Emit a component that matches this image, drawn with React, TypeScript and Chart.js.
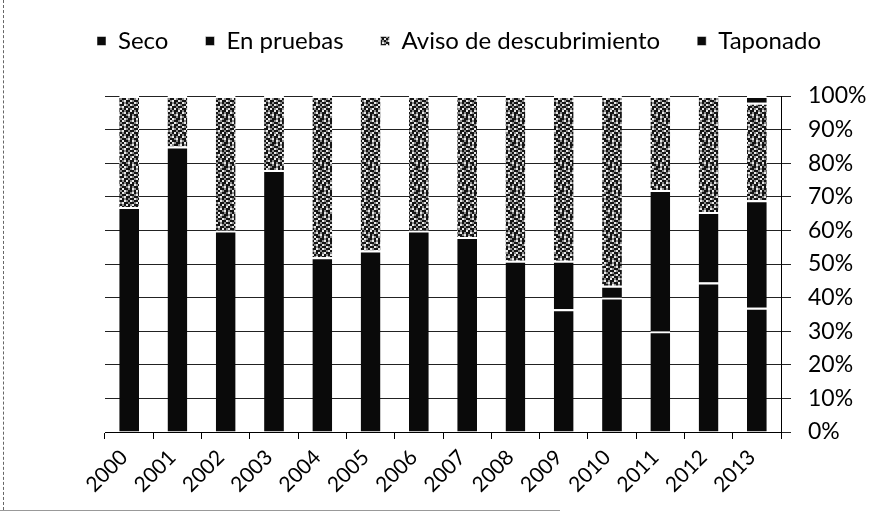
import { useEffect, useRef } from "react";
import { Chart, registerables } from "chart.js";

Chart.register(...registerables);

const years = ["2000", "2001", "2002", "2003", "2004", "2005", "2006", "2007", "2008", "2009", "2010", "2011", "2012", "2013"];
const seco = [67, 85, 60, 78, 52, 54, 60, 58, 51, 36.5, 40, 30, 44.5, 37];
const enPruebas = [0, 0, 0, 0, 0, 0, 0, 0, 0, 14.5, 3.5, 42, 21, 32];
const avisoDescubrimiento = [33, 15, 40, 22, 48, 46, 40, 42, 49, 49, 56.5, 28, 34.5, 29];
const taponado = [0, 0, 0, 0, 0, 0, 0, 0, 0, 0, 0, 0, 0, 2];
const yTicks = [0, 10, 20, 30, 40, 50, 60, 70, 80, 90, 100];

const FONT = "Lato, 'Open Sans', sans-serif";

function makeSpeckle(): CanvasPattern | string {
  const rows = [
    "KWGKKGWKGKKG",
    "GKKWGKKGWKGK",
    "KGWKKWGKKGWK",
    "WKGKGKKWGKKG",
    "KKWGKWGKKWKK",
    "GWKKGKKGWKGW",
    "KGKWKGWKKGKK",
    "WKGKKWKGKWGK",
    "KGWKGKKWGKKG",
    "GKKGWKGKKWKW",
    "KWKKGKWGKGKK",
    "GKWGKKGKWKGK",
  ];
  const S = 2;
  const c = document.createElement("canvas");
  c.width = rows[0].length * S;
  c.height = rows.length * S;
  const ctx = c.getContext("2d");
  if (!ctx) return "#606060";
  const col: Record<string, string> = { K: "#141414", G: "#8a8a8a", W: "#e8e8e8" };
  rows.forEach((r, y) => {
    for (let x = 0; x < r.length; x++) {
      ctx.fillStyle = col[r[x]];
      ctx.fillRect(x * S, y * S, S, S);
    }
  });
  const p = ctx.createPattern(c, "repeat");
  return p || "#606060";
}

const LEGEND_H = 96;
const LEGEND_PAD = 37;
const LEGEND_START_X = 97;
const LEGEND_DY = -8;

const legendTweak = {
  id: "legendTweak",
  beforeLayout(chart: any) {
    const lg = chart.legend;
    if (lg && !lg.__patched) {
      const fit = lg.fit;
      lg.fit = function () {
        this.maxWidth = 2000;
        fit.call(this);
        this.height = LEGEND_H;
      };
      lg.__patched = true;
    }
  },
  afterLayout(chart: any) {
    const lg = chart.legend;
    if (lg) {
      lg.left = LEGEND_START_X - LEGEND_PAD;
      lg.right = 2000;
      lg.top += LEGEND_DY;
      lg.bottom += LEGEND_DY;
    }
  },
};

export default function App() {
  const ref = useRef<HTMLCanvasElement>(null);
  useEffect(() => {
    if (!ref.current) return;
    const speckle = makeSpeckle();
    const border = { top: 2, left: 0, right: 0, bottom: 0 };
    const common = {
      borderColor: "#ffffff",
      borderWidth: border,
      borderSkipped: false as const,
      barPercentage: 0.41,
      categoryPercentage: 1,
    };
    const chart = new Chart(ref.current, {
      type: "bar",
      data: {
        labels: years,
        datasets: [
          { label: "Seco", data: seco, backgroundColor: "#0a0a0a", ...common },
          { label: "En pruebas", data: enPruebas, backgroundColor: "#0a0a0a", ...common },
          { label: "Aviso de descubrimiento", data: avisoDescubrimiento, backgroundColor: speckle as any, ...common },
          { label: "Taponado", data: taponado, backgroundColor: "#0a0a0a", ...common },
        ],
      },
      options: {
        responsive: false,
        animation: false,
        layout: { padding: { left: 105, right: 0, top: 0, bottom: 0 } },
        plugins: {
          legend: {
            position: "top",
            align: "start",
            labels: {
              boxWidth: 9,
              boxHeight: 9,
              padding: LEGEND_PAD,
              color: "#000",
              font: { family: FONT, size: 24 },
            },
          },
          tooltip: { enabled: false },
        },
        scales: {
          x: {
            stacked: true,
            offset: true,
            afterFit: (s: any) => {
              s.height = 91;
            },
            grid: { drawOnChartArea: false, drawTicks: true, tickLength: 7, color: "#000", offset: true },
            border: { display: true, color: "#000", width: 1 },
            ticks: {
              autoSkip: false,
              minRotation: 45,
              maxRotation: 45,
              padding: 6,
              labelOffset: -5,
              color: "#000",
              font: { family: FONT, size: 21 },
            },
          },
          y: {
            stacked: true,
            position: "right",
            min: 0,
            max: 100,
            afterFit: (s: any) => {
              s.width = 89;
            },
            afterBuildTicks: (s: any) => {
              s.ticks = yTicks.map((v) => ({ value: v }));
            },
            grid: { color: "#222", lineWidth: 1, tickLength: 10 },
            border: { display: true, color: "#000", width: 1 },
            ticks: {
              padding: 17,
              color: "#000",
              font: { family: FONT, size: 23 },
              callback: (v: any) => v + "%",
            },
          },
        },
      },
      plugins: [legendTweak],
    });
    return () => chart.destroy();
  }, []);

  return (
    <div style={{ position: "absolute", left: 0, top: 0, width: 870, height: 523, background: "#fff", overflow: "hidden" }}>
      <canvas ref={ref} width={870} height={523} style={{ width: 870, height: 523, display: "block" }} />
      <div style={{ position: "absolute", left: 3, top: 0, width: 0, height: 510, borderLeft: "1px dashed #666" }} />
      <div style={{ position: "absolute", left: 0, top: 510, width: 560, height: 0, borderTop: "1px solid #999" }} />
    </div>
  );
}
